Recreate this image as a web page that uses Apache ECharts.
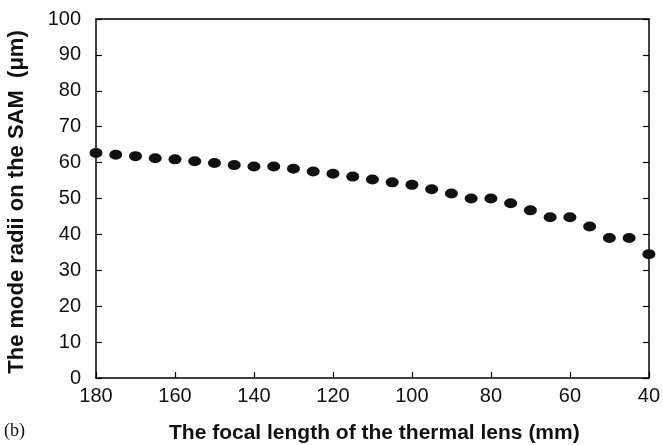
<!DOCTYPE html>
<html>
<head>
<meta charset="utf-8">
<script src="https://cdn.jsdelivr.net/npm/echarts@6/dist/echarts.min.js"></script>
<style>
  html, body { margin: 0; padding: 0; background: #fff; }
  #chart { width: 663px; height: 445px; }
</style>
</head>
<body>
<div id="chart"></div>
<script>
// focal length of the thermal lens (mm)
const focalLength = [180, 175, 170, 165, 160, 155, 150, 145, 140, 135, 130, 125, 120, 115, 110,
  105, 100, 95, 90, 85, 80, 75, 70, 65, 60, 55, 50, 45, 40]
// mode radius on the SAM (um)
const modeRadius = [62.7, 62.2, 61.8, 61.2, 60.9, 60.4, 59.9, 59.3, 58.9, 58.9, 58.3, 57.5, 56.9, 56.1, 55.3,
  54.5, 53.8, 52.6, 51.4, 50.0, 50.0, 48.7, 46.7, 44.8, 44.8, 42.2, 39.0, 39.0, 34.5]

const font = 'Liberation Sans, Arial, sans-serif'
const chart = echarts.init(document.getElementById('chart'))

const axisLine = { show: true, onZero: false, lineStyle: { color: '#000', width: 1.5 } }
const tick = { show: true, inside: true, length: 6, lineStyle: { color: '#000', width: 1.2 } }

const option = {
  animation: false,
  grid: { left: 96, right: 10, top: 19, bottom: 67 },
  xAxis: [
    {
      type: 'value', min: 40, max: 180, interval: 20, inverse: true,
      axisLine: axisLine, axisTick: tick, splitLine: { show: false },
      axisLabel: { color: '#111', fontFamily: font, fontSize: 20, margin: 8 }
    },
    {
      type: 'value', position: 'top', min: 40, max: 180, inverse: true,
      axisLine: axisLine, axisTick: { show: false }, axisLabel: { show: false }, splitLine: { show: false }
    }
  ],
  yAxis: [
    {
      type: 'value', min: 0, max: 100, interval: 10,
      axisLine: axisLine, axisTick: tick, splitLine: { show: false },
      axisLabel: { color: '#111', fontFamily: font, fontSize: 20, margin: 15 }
    },
    {
      type: 'value', position: 'right', min: 0, max: 100, interval: 10,
      axisLine: axisLine, axisTick: tick, axisLabel: { show: false }, splitLine: { show: false }
    }
  ],
  series: [{
    type: 'scatter',
    data: focalLength.map((f, i) => [f, modeRadius[i]]),
    symbol: 'circle',
    symbolSize: [13, 10],
    itemStyle: { color: '#111', opacity: 1 },
    clip: false
  }],
  graphic: [
    {
      type: 'text', left: 169, top: 423,
      style: { text: 'The focal length of the thermal lens (mm)', font: 'bold 21px ' + font, fill: '#111' }
    },
    {
      type: 'text', left: 4, top: 422,
      style: { text: '(b)', font: '18px Liberation Serif, serif', fill: '#111' }
    },
    {
      type: 'text', x: 17, y: 202, rotation: Math.PI / 2,
      style: { text: 'The mode radii on the SAM  (μm)', font: 'bold 22px ' + font, fill: '#111', align: 'center', verticalAlign: 'middle' }
    }
  ]
}
chart.setOption(option)
</script>
</body>
</html>
